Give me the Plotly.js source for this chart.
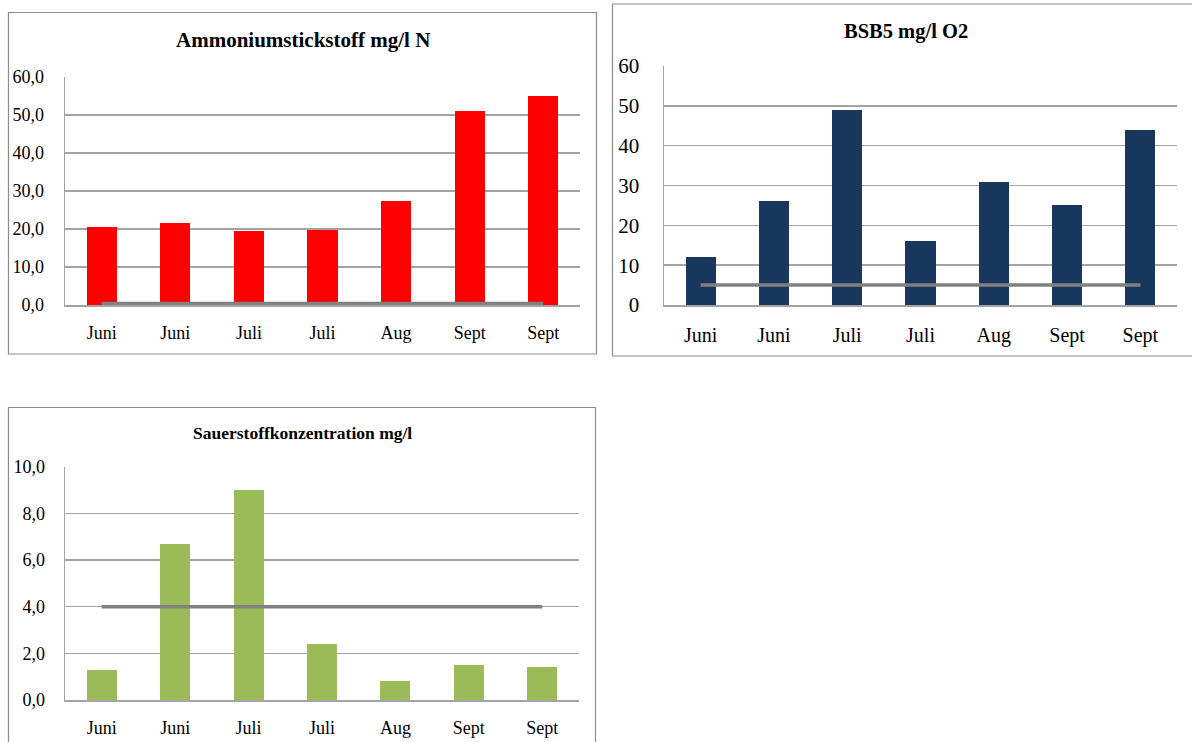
<!DOCTYPE html>
<html>
<head>
<meta charset="utf-8">
<script src="https://cdn.plot.ly/plotly-3.0.1.min.js"></script>
<style>html,body{margin:0;padding:0;background:#fff;}#chart{width:1192px;height:742px;}</style>
</head>
<body>
<div id="chart"></div>
<script>
// ---- data ----
const categories = ["Juni", "Juni", "Juli", "Juli", "Aug", "Sept", "Sept"];
const ammonium = [20.5, 21.6, 19.5, 19.8, 27.4, 51.0, 54.9];
const ammoniumLimit = [0.4, 0.4, 0.4, 0.4, 0.4, 0.4, 0.4];
const bsb5 = [12, 26, 49, 16, 31, 25, 44];
const bsb5Limit = [5, 5, 5, 5, 5, 5, 5];
const sauerstoff = [1.3, 6.7, 9.0, 2.4, 0.8, 1.5, 1.4];
const sauerstoffLimit = [4.0, 4.0, 4.0, 4.0, 4.0, 4.0, 4.0];
const titles = ["Ammoniumstickstoff mg/l N", "BSB5 mg/l O2", "Sauerstoffkonzentration mg/l"];
const yTicks1 = [0, 10, 20, 30, 40, 50, 60];
const yTicks3 = [0, 2, 4, 6, 8, 10];

// ---- geometry helpers ----
const W = 1192, H = 742;
const px = v => v / W;
const py = v => 1 - v / H;
const idx = categories.map((c, i) => i);
const FONT = "'Liberation Serif', 'Times New Roman', Times, serif";
const grid = "#a3a3a3";

function bars(y, color, xa, ya) {
  return {type: "bar", x: idx, y: y, xaxis: xa, yaxis: ya, width: 0.41,
    marker: {color: color, line: {width: 0}}, hoverinfo: "skip", showlegend: false};
}
function limit(y, xa, ya) {
  return {type: "scatter", mode: "lines", x: idx, y: y, xaxis: xa, yaxis: ya,
    line: {color: "#808080", width: 3.5}, hoverinfo: "skip", showlegend: false};
}
function xax(d0, d1, anchor, size, standoff) {
  return {domain: [px(d0), px(d1)], anchor: anchor, range: [-0.5, 6.5],
    tickmode: "array", tickvals: idx, ticktext: categories, ticks: "",
    showgrid: false, zeroline: false, showline: true, linecolor: grid, linewidth: 1.5,
    ticklabelstandoff: standoff, tickfont: {family: FONT, size: size, color: "#000"}, fixedrange: true};
}
function yax(top, bottom, anchor, range, tv, fmt, size, standoff) {
  return {domain: [py(bottom), py(top)], anchor: anchor, range: range,
    tickmode: "array", tickvals: tv, tickformat: fmt, ticks: "",
    showgrid: true, gridcolor: grid, gridwidth: 1.5, zeroline: false,
    showline: true, linecolor: grid, linewidth: 1.5,
    ticklabelstandoff: standoff, tickfont: {family: FONT, size: size, color: "#000"}, fixedrange: true};
}
function box(x0, y0, x1, y1) {
  return {type: "rect", xref: "paper", yref: "paper", x0: px(x0), x1: px(x1), y0: py(y1), y1: py(y0),
    line: {color: "#8c8c8c", width: 1.2}, fillcolor: "rgba(0,0,0,0)", layer: "below"};
}
function title(text, x, y, size) {
  return {text: "<b>" + text + "</b>", xref: "paper", yref: "paper", x: px(x), y: py(y),
    xanchor: "center", yanchor: "middle", showarrow: false,
    font: {family: FONT, size: size, color: "#000"}};
}

const data = [
  bars(ammonium, "#FF0000", "x", "y"),
  limit(ammoniumLimit, "x", "y"),
  bars(bsb5, "#17375E", "x2", "y2"),
  limit(bsb5Limit, "x2", "y2"),
  bars(sauerstoff, "#9BBB59", "x3", "y3"),
  limit(sauerstoffLimit, "x3", "y3")
];

const layout = {
  width: W, height: H, margin: {l: 0, r: 0, t: 0, b: 0},
  paper_bgcolor: "#fff", plot_bgcolor: "rgba(0,0,0,0)",
  separators: ", ", showlegend: false, bargap: 0,
  xaxis: xax(65, 580, "y", 18, 11),
  yaxis: yax(77, 305, "x", [0, 60], yTicks1, ".1f", 18, 16),
  xaxis2: xax(664, 1177, "y2", 20, 11),
  yaxis2: yax(66, 305, "x2", [0, 60], yTicks1, "d", 21, 19),
  xaxis3: xax(65, 579, "y3", 18, 11),
  yaxis3: yax(466.7, 700, "x3", [0, 10], yTicks3, ".1f", 18, 15),
  shapes: [
    box(8.5, 12.5, 596.5, 354),
    box(612.5, 4, 1194, 356),
    box(8.5, 407.5, 595.5, 750)
  ],
  annotations: [
    title(titles[0], 303, 40, 21),
    title(titles[1], 906, 32, 20.5),
    title(titles[2], 302, 433, 17.5)
  ]
};

Plotly.newPlot("chart", data, layout, {displayModeBar: false, staticPlot: true});
</script>
</body>
</html>
